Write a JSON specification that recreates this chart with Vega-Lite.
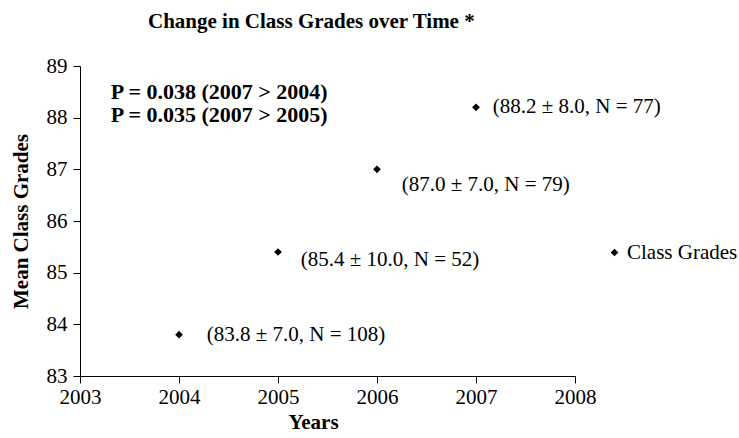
{
  "$schema": "https://vega.github.io/schema/vega-lite/v6.json",
  "autosize": "none",
  "width": 495,
  "height": 310,
  "padding": {"left": 80, "top": 66, "right": 164, "bottom": 62},
  "background": "white",
  "config": {
    "view": {"stroke": null},
    "font": "Liberation Serif",
    "axis": {"grid": false, "ticks": true, "domainColor": "black", "tickColor": "black", "labelColor": "black", "titleColor": "black", "labelFont": "Liberation Serif", "titleFont": "Liberation Serif", "labelFontSize": 21, "titleFontSize": 21, "titleFontWeight": "bold", "tickSize": 7, "labelFlush": false, "labelOverlap": false}
  },
  "title": {"text": "Change in Class Grades over Time *", "font": "Liberation Serif", "fontSize": 21, "fontWeight": "bold", "color": "black", "anchor": "start", "frame": "group", "dx": 68, "offset": 23},
  "datasets": {
    "grades": [
      {"year": 2004, "mean": 83.8, "label": "(83.8 ± 7.0, N = 108)", "labelYear": 2004.28, "labelMean": 83.8, "series": "Class Grades"},
      {"year": 2005, "mean": 85.4, "label": "(85.4 ± 10.0, N = 52)", "labelYear": 2005.23, "labelMean": 85.24, "series": "Class Grades"},
      {"year": 2006, "mean": 87.0, "label": "(87.0 ± 7.0, N = 79)", "labelYear": 2006.25, "labelMean": 86.69, "series": "Class Grades"},
      {"year": 2007, "mean": 88.2, "label": "(88.2 ± 8.0, N = 77)", "labelYear": 2007.17, "labelMean": 88.2, "series": "Class Grades"}
    ],
    "pvals": [
      {"x": 2003.31, "y": 88.5, "text": "P = 0.038 (2007 > 2004)"},
      {"x": 2003.31, "y": 88.05, "text": "P = 0.035 (2007 > 2005)"}
    ]
  },
  "layer": [
    {
      "data": {"name": "grades"},
      "mark": {"type": "point", "shape": "diamond", "filled": true, "size": 60, "opacity": 1},
      "encoding": {
        "x": {"field": "year", "type": "quantitative", "scale": {"domain": [2003, 2008], "nice": false, "zero": false},
          "axis": {"title": "Years", "values": [2003, 2004, 2005, 2006, 2007, 2008], "format": "d", "labelPadding": 3, "titlePadding": 4, "titleX": 233}},
        "y": {"field": "mean", "type": "quantitative", "scale": {"domain": [83, 89], "nice": false, "zero": false},
          "axis": {"title": "Mean Class Grades", "values": [83, 84, 85, 86, 87, 88, 89], "labelPadding": 6, "titlePadding": 15}},
        "color": {"field": "series", "type": "nominal", "scale": {"range": ["black"]},
          "legend": {"title": null, "orient": "none", "legendX": 524, "legendY": 176, "labelFont": "Liberation Serif", "labelFontSize": 21, "labelColor": "black", "symbolSize": 60, "symbolType": "diamond", "labelOffset": 2}}
      }
    },
    {
      "data": {"name": "grades"},
      "mark": {"type": "text", "align": "left", "baseline": "middle", "font": "Liberation Serif", "fontSize": 21, "color": "black"},
      "encoding": {
        "x": {"field": "labelYear", "type": "quantitative"},
        "y": {"field": "labelMean", "type": "quantitative"},
        "text": {"field": "label"}
      }
    },
    {
      "data": {"name": "pvals"},
      "mark": {"type": "text", "align": "left", "baseline": "middle", "font": "Liberation Serif", "fontSize": 22, "fontWeight": "bold", "color": "black"},
      "encoding": {
        "x": {"field": "x", "type": "quantitative"},
        "y": {"field": "y", "type": "quantitative"},
        "text": {"field": "text"}
      }
    }
  ]
}
